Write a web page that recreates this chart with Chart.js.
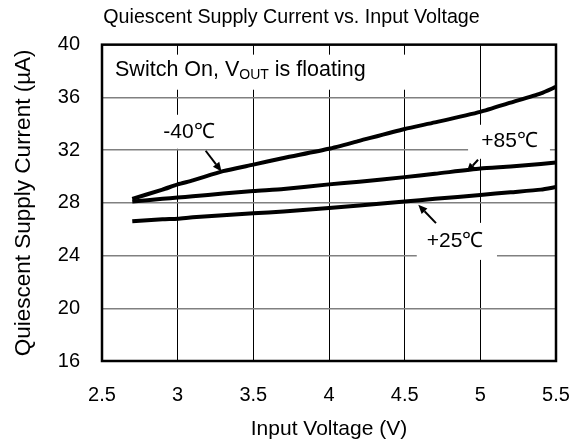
<!DOCTYPE html>
<html><head><meta charset="utf-8">
<script src="https://cdn.jsdelivr.net/npm/chart.js@4"></script>
<style>html,body{margin:0;padding:0;background:#fff}</style>
</head><body>
<canvas id="c" width="583" height="446"></canvas>
<script>
const voltages      = [2.7, 2.9, 3.0, 3.1, 3.3, 3.5, 3.7, 4.0, 4.2, 4.5, 4.7, 5.0, 5.2, 5.4, 5.5];
const currentM40    = [28.3, 29.0, 29.4, 29.7, 30.4, 30.9, 31.4, 32.1, 32.7, 33.6, 34.1, 34.9, 35.6, 36.3, 36.8];
const currentP85    = [28.1, 28.3, 28.4, 28.5, 28.7, 28.9, 29.05, 29.4, 29.6, 29.95, 30.2, 30.6, 30.75, 30.95, 31.05];
const currentP25    = [26.6, 26.75, 26.8, 26.9, 27.05, 27.2, 27.35, 27.6, 27.8, 28.1, 28.3, 28.6, 28.8, 29.0, 29.2];
const seriesLabels  = ['-40℃', '+85℃', '+25℃'];
const xTickValues   = [2.5, 3, 3.5, 4, 4.5, 5, 5.5];
const yTickValues   = [16, 20, 24, 28, 32, 36, 40];

const FONT = "'Liberation Sans', Arial, sans-serif";

function pts(ys) { return voltages.map((v, i) => ({x: v, y: ys[i]})); }

const annot = {
  id: 'annot',
  beforeDatasetsDraw(chart) {
    const {ctx, chartArea: a, scales: {x, y}} = chart;
    ctx.save();
    ctx.fillStyle = '#fff';
    const box = (x0, x1, y0, y1) => {
      const px0 = x.getPixelForValue(x0), px1 = x.getPixelForValue(x1);
      const py0 = y.getPixelForValue(y0), py1 = y.getPixelForValue(y1);
      ctx.fillRect(px0, py0, px1 - px0, py1 - py0);
    };
    box(2.5, 4.73, 39.24, 36.58);
    box(2.804, 3.352, 34.68, 32.1);
    box(4.919, 5.46, 33.92, 31.34);
    box(4.58, 5.11, 26.48, 23.67);
    ctx.strokeStyle = '#000';
    ctx.lineWidth = 2.5;
    ctx.strokeRect(a.left, a.top, a.right - a.left, a.bottom - a.top);
    ctx.restore();
  },
  afterDatasetsDraw(chart) {
    const {ctx, scales: {x, y}} = chart;
    ctx.save();
    ctx.fillStyle = '#000';
    ctx.strokeStyle = '#000';
    ctx.textBaseline = 'middle';
    let tx = x.getPixelForValue(2.586), ty = y.getPixelForValue(38.1);
    ctx.textAlign = 'left';
    ctx.font = "21.5px " + FONT;
    const t1 = 'Switch On, V';
    ctx.fillText(t1, tx, ty);
    tx += ctx.measureText(t1).width;
    ctx.font = "14px " + FONT;
    ctx.fillText('OUT', tx, ty + 5);
    tx += ctx.measureText('OUT').width;
    ctx.font = "21.5px " + FONT;
    ctx.fillText(' is floating', tx, ty);
    ctx.font = "21px " + FONT;
    ctx.textAlign = 'center';
    const lab = (t, vx, vy) => ctx.fillText(t, x.getPixelForValue(vx), y.getPixelForValue(vy));
    lab(seriesLabels[0], 3.075, 33.32);
    lab(seriesLabels[1], 5.193, 32.66);
    lab(seriesLabels[2], 4.833, 25.06);
    const arrow = (x0, y0, x1, y1) => {
      const ax = x.getPixelForValue(x0), ay = y.getPixelForValue(y0);
      const bx = x.getPixelForValue(x1), by = y.getPixelForValue(y1);
      const ang = Math.atan2(by - ay, bx - ax);
      const hl = 9, hw = 4;
      const cx = bx - hl * Math.cos(ang), cy = by - hl * Math.sin(ang);
      ctx.lineWidth = 2;
      ctx.beginPath(); ctx.moveTo(ax, ay); ctx.lineTo(cx, cy); ctx.stroke();
      ctx.beginPath();
      ctx.moveTo(bx, by);
      ctx.lineTo(cx + hw * Math.sin(ang), cy - hw * Math.cos(ang));
      ctx.lineTo(cx - hw * Math.sin(ang), cy + hw * Math.cos(ang));
      ctx.closePath(); ctx.fill();
    };
    arrow(3.185, 31.95, 3.29, 30.38);
    arrow(4.985, 31.27, 4.91, 30.33);
    arrow(4.707, 26.46, 4.59, 27.85);
    ctx.restore();
  }
};

const lineDs = (label, ys) => ({
  label, data: pts(ys), borderColor: '#000', borderWidth: 4, pointRadius: 0,
  tension: 0.2, fill: false
});

new Chart(document.getElementById('c'), {
  type: 'line',
  data: { datasets: [lineDs(seriesLabels[0], currentM40), lineDs(seriesLabels[1], currentP85), lineDs(seriesLabels[2], currentP25)] },
  options: {
    responsive: false, animation: false, devicePixelRatio: 1,
    layout: { padding: 0 },
    plugins: {
      legend: { display: false }, tooltip: { enabled: false },
      title: { display: true, text: 'Quiescent Supply Current vs. Input Voltage', color: '#000',
        font: { family: FONT, size: 19.7, weight: 'normal' }, padding: { top: 6, bottom: 15 } }
    },
    scales: {
      x: {
        type: 'linear', min: 2.5, max: 5.5,
        afterBuildTicks: s => { s.ticks = xTickValues.map(v => ({value: v})); },
        afterFit: s => { s.height = 85; s.paddingRight = 0; s.paddingLeft = 0; },
        grid: { color: '#000', lineWidth: 1, drawTicks: false },
        border: { display: false },
        ticks: { color: '#000', font: { family: FONT, size: 20 }, padding: 22, maxRotation: 0,
          callback: v => String(v) },
        title: { display: true, text: 'Input Voltage (V)', color: '#000', font: { family: FONT, size: 21 }, padding: { top: 0, bottom: 4 } }
      },
      y: {
        min: 16, max: 40,
        afterBuildTicks: s => { s.ticks = yTickValues.map(v => ({value: v})); },
        afterFit: s => { s.width = 102; },
        grid: { color: '#808080', lineWidth: 1.5, drawTicks: false },
        border: { display: false },
        ticks: { color: '#000', font: { family: FONT, size: 20 }, padding: 22, callback: v => String(v) },
        title: { display: true, text: 'Quiescent Supply Current (µA)', color: '#000', font: { family: FONT, size: 22.5 }, padding: { top: 10, bottom: 0 } }
      },
      yRight: {
        position: 'right', display: true, min: 16, max: 40,
        afterFit: s => { s.width = 27; },
        grid: { display: false, drawTicks: false },
        border: { display: false },
        ticks: { display: false }
      }
    }
  },
  plugins: [annot]
});
</script>
</body></html>
